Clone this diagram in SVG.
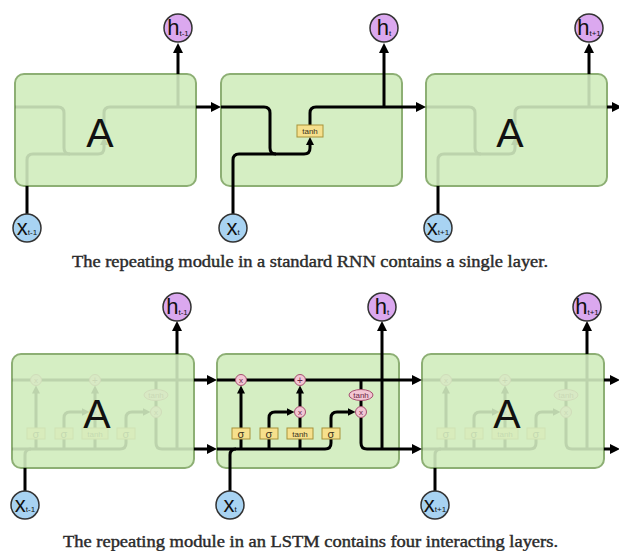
<svg xmlns="http://www.w3.org/2000/svg" xmlns:xlink="http://www.w3.org/1999/xlink" width="619" height="551" viewBox="0 0 619 551">
<style>
.cell{fill:#d5eec3;stroke:#8daf74;stroke-width:2}
.ln{fill:none;stroke:#000;stroke-width:3}
.ar{marker-end:url(#arr)}
.as{marker-end:url(#arrs)}
.gate{fill:#f6e08c;stroke:#a8923a;stroke-width:1}
.op{fill:#f3c6d4;stroke:#a5506f;stroke-width:1}
.gt{font-family:"Liberation Sans","DejaVu Sans",sans-serif;fill:#3a3020;text-anchor:middle}
.ot{font-family:"Liberation Sans","DejaVu Sans",sans-serif;fill:#6a2545;text-anchor:middle}
.big{font-family:"Liberation Sans",Arial,sans-serif;font-size:41px;fill:#111;text-anchor:middle}
.hc{fill:#dba8ef;stroke:#333;stroke-width:1.5}
.xc{fill:#a8d3f2;stroke:#333;stroke-width:1.5}
.lbl{font-family:"Liberation Sans","DejaVu Sans",sans-serif;font-size:22px;fill:#111;text-anchor:middle}
.cap{font-family:"Liberation Serif","DejaVu Serif",serif;font-size:16px;fill:#2a2a2a;stroke:#2a2a2a;stroke-width:0.4}
.ghost{opacity:0.11}
</style>
<defs>
<marker id="arr" viewBox="0 0 10 10" refX="2" refY="5" markerWidth="10" markerHeight="10" markerUnits="userSpaceOnUse" orient="auto"><path d="M0,0 L10,5 L0,10 z" fill="#000"/></marker>
<marker id="arrs" viewBox="0 0 10 10" refX="2.5" refY="5" markerWidth="8" markerHeight="8" markerUnits="userSpaceOnUse" orient="auto"><path d="M0,0 L10,5 L0,10 z" fill="#000"/></marker>
<g id="rnn-lines">
<path class="ln" d="M0,33 H43 Q49,33 49,39 V74 Q49,80 55,80"/>
<path class="ln as" d="M12,112 V86 Q12,80 18,80 H83 Q89,80 89,74 V69"/>
<path class="ln" d="M89,51 V39 Q89,33 95,33 H181"/>
<path class="ln" d="M163,33 V0"/>
</g>
<g id="rnn-gates">
<rect class="gate" x="76" y="51" width="26" height="12"/>
<text class="gt" x="89" y="60" font-size="8">tanh</text>
</g>
<g id="lstm-lines">
<path class="ln" d="M0,26 H182"/>
<path class="ln" d="M0,95 H108 Q114,95 114,89 V85"/>
<path class="ln" d="M13,114 V101 Q13,95 19,95"/>
<path class="ln" d="M24,95 V85 M52,95 V85 M83,95 V85 M83,74 V63 M144,26 V35.5 M144,46.5 V52.5"/>
<path class="ln as" d="M24,74 V37.5"/>
<path class="ln as" d="M52,74 V64 Q52,58 58,58 H71.5"/>
<path class="ln as" d="M83,52.5 V37.5"/>
<path class="ln as" d="M114,74 V64 Q114,58 120,58 H132.5"/>
<path class="ln" d="M144,63.5 V89 Q144,95 150,95 H182"/>
<path class="ln" d="M165,95 V0"/>
</g>
<g id="lstm-gates">
<rect class="gate" x="15" y="74" width="18" height="11"/>
<rect class="gate" x="43" y="74" width="18" height="11"/>
<rect class="gate" x="70" y="74" width="26" height="11"/>
<rect class="gate" x="105" y="74" width="18" height="11"/>
<text class="gt" x="24" y="83.5" font-size="11">σ</text>
<text class="gt" x="52" y="83.5" font-size="11">σ</text>
<text class="gt" x="83" y="82.5" font-size="8">tanh</text>
<text class="gt" x="114" y="83.5" font-size="11">σ</text>
<circle class="op" cx="24" cy="26" r="5.5"/>
<circle class="op" cx="83" cy="26" r="5.5"/>
<circle class="op" cx="83" cy="58" r="5.5"/>
<circle class="op" cx="144" cy="58" r="5.5"/>
<ellipse class="op" cx="144" cy="41" rx="12" ry="5.5"/>
<text class="ot" x="24" y="29" font-size="8">x</text>
<text class="ot" x="83" y="29.5" font-size="10">+</text>
<text class="ot" x="83" y="61" font-size="8">x</text>
<text class="ot" x="144" y="61" font-size="8">x</text>
<text class="ot" x="144" y="44" font-size="8">tanh</text>
</g>
</defs>

<g id="rnn-cell-1">
<rect class="cell" x="15" y="74" width="181" height="112" rx="9"/>
<g class="ghost" transform="translate(15,74)"><use xlink:href="#rnn-lines"/></g>
<text class="big" x="100" y="147">A</text>
</g>
<g id="rnn-cell-2">
<rect class="cell" x="221" y="74" width="181" height="112" rx="9"/>
</g>
<g id="rnn-cell-3">
<rect class="cell" x="426" y="74" width="181" height="112" rx="9"/>
<g class="ghost" transform="translate(426,74)"><use xlink:href="#rnn-lines"/></g>
<text class="big" x="510" y="147">A</text>
</g>

<g id="lstm-cell-1">
<rect class="cell" x="12" y="354" width="182" height="114" rx="9"/>
<g class="ghost" transform="translate(12,354)"><use xlink:href="#lstm-lines"/><use xlink:href="#lstm-gates"/></g>
<text class="big" x="97" y="428">A</text>
</g>
<g id="lstm-cell-2">
<rect class="cell" x="217" y="354" width="182" height="114" rx="9"/>
</g>
<g id="lstm-cell-3">
<rect class="cell" x="422" y="354" width="182" height="114" rx="9"/>
<g class="ghost" transform="translate(422,354)"><use xlink:href="#lstm-lines"/><use xlink:href="#lstm-gates"/></g>
<text class="big" x="507" y="428">A</text>
</g>

<g id="connectors">
<use xlink:href="#rnn-lines" transform="translate(221,74)"/>
<use xlink:href="#lstm-lines" transform="translate(217,354)"/>
<path class="ln ar" d="M196,107 H213"/>
<path class="ln ar" d="M402,107 H418"/>
<path class="ln ar" d="M607,107 H614"/>
<path class="ln ar" d="M178,74 V51"/>
<path class="ln ar" d="M384,74 V51"/>
<path class="ln ar" d="M589,74 V51"/>
<path class="ln" d="M27,214 V186 M233,214 V186 M438,214 V186"/>
<path class="ln ar" d="M194,380 H209"/>
<path class="ln ar" d="M399,380 H414"/>
<path class="ln ar" d="M604,380 H612"/>
<path class="ln ar" d="M194,449 H209"/>
<path class="ln ar" d="M399,449 H414"/>
<path class="ln ar" d="M604,449 H612"/>
<path class="ln ar" d="M177,354 V329"/>
<path class="ln ar" d="M382,354 V329"/>
<path class="ln ar" d="M587,354 V329"/>
<path class="ln" d="M25,491 V468 M230,491 V468 M435,491 V468"/>
</g>

<g id="rnn-tanh"><use xlink:href="#rnn-gates" transform="translate(221,74)"/></g>
<g id="lstm-gates-2"><use xlink:href="#lstm-gates" transform="translate(217,354)"/></g>

<g id="h-rnn-1"><circle class="hc" cx="178" cy="28" r="14"/><text class="lbl" x="178" y="35">h<tspan font-size="8" dy="1">t-1</tspan></text></g>
<g id="h-rnn-2"><circle class="hc" cx="384" cy="28" r="14"/><text class="lbl" x="384" y="35">h<tspan font-size="8" dy="1">t</tspan></text></g>
<g id="h-rnn-3"><circle class="hc" cx="589" cy="28" r="14"/><text class="lbl" x="589" y="35">h<tspan font-size="8" dy="1">t+1</tspan></text></g>
<g id="x-rnn-1"><circle class="xc" cx="27" cy="228" r="14"/><text class="lbl" x="27" y="235">x<tspan font-size="8" dy="0">t-1</tspan></text></g>
<g id="x-rnn-2"><circle class="xc" cx="233" cy="228" r="14"/><text class="lbl" x="233" y="235">x<tspan font-size="8" dy="0">t</tspan></text></g>
<g id="x-rnn-3"><circle class="xc" cx="438" cy="228" r="14"/><text class="lbl" x="438" y="235">x<tspan font-size="8" dy="0">t+1</tspan></text></g>

<g id="h-lstm-1"><circle class="hc" cx="177" cy="307" r="14"/><text class="lbl" x="177" y="314">h<tspan font-size="8" dy="1">t-1</tspan></text></g>
<g id="h-lstm-2"><circle class="hc" cx="382" cy="307" r="14"/><text class="lbl" x="382" y="314">h<tspan font-size="8" dy="1">t</tspan></text></g>
<g id="h-lstm-3"><circle class="hc" cx="587" cy="307" r="14"/><text class="lbl" x="587" y="314">h<tspan font-size="8" dy="1">t+1</tspan></text></g>
<g id="x-lstm-1"><circle class="xc" cx="25" cy="505" r="14"/><text class="lbl" x="25" y="512">x<tspan font-size="8" dy="0">t-1</tspan></text></g>
<g id="x-lstm-2"><circle class="xc" cx="230" cy="505" r="14"/><text class="lbl" x="230" y="512">x<tspan font-size="8" dy="0">t</tspan></text></g>
<g id="x-lstm-3"><circle class="xc" cx="435" cy="505" r="14"/><text class="lbl" x="435" y="512">x<tspan font-size="8" dy="0">t+1</tspan></text></g>

<text class="cap" x="72" y="267" textLength="476" lengthAdjust="spacingAndGlyphs">The repeating module in a standard RNN contains a single layer.</text>
<text class="cap" x="63" y="547" textLength="495" lengthAdjust="spacingAndGlyphs">The repeating module in an LSTM contains four interacting layers.</text>
</svg>
